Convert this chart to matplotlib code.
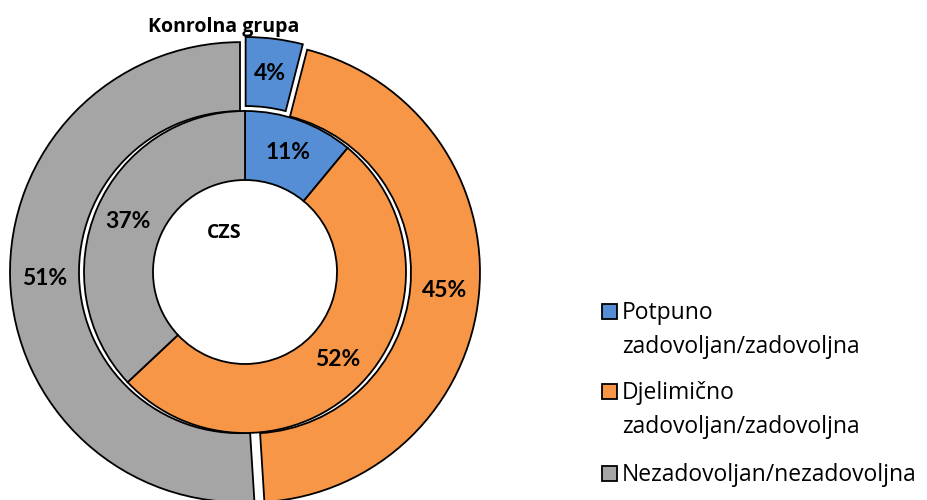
import matplotlib.pyplot as plt
from matplotlib.patches import Rectangle

# data
categories = ["Potpuno\nzadovoljan/zadovoljna",
              "Djelimično\nzadovoljan/zadovoljna",
              "Nezadovoljan/nezadovoljna"]
czs_values = [11, 52, 37]
kontrolna_values = [4, 45, 51]
colors = ["#558ED5", "#F79646", "#A5A5A5"]

plt.rcParams['font.family'] = ['Open Sans', 'DejaVu Sans']
pct_font = ['Lato', 'DejaVu Sans']

fig = plt.figure(figsize=(9.27, 5.0), dpi=100)
ax = fig.add_axes([0, 0, 1, 1])

# work in pixel-like units so the rings land where they should
cx, cy = 245, 500 - 272
ring_w = 69

outer, _, outer_txt = ax.pie(
    kontrolna_values, radius=230, center=(cx, cy), startangle=90, counterclock=False,
    explode=[5, 5, 5], colors=colors, autopct='%.0f%%', pctdistance=0.85,
    wedgeprops=dict(width=ring_w, edgecolor='black', linewidth=1.3),
    textprops=dict(fontsize=16.5, fontweight='bold', family=pct_font), frame=True)

inner, _, inner_txt = ax.pie(
    czs_values, radius=161, center=(cx, cy), startangle=90, counterclock=False,
    colors=colors, autopct='%.0f%%', pctdistance=0.79,
    wedgeprops=dict(width=ring_w, edgecolor='black', linewidth=1.3),
    textprops=dict(fontsize=16.5, fontweight='bold', family=pct_font), frame=True)

ax.text(224, 500 - 27, "Konrolna grupa", ha='center', va='center',
        fontsize=14, fontweight='bold', zorder=5)
ax.text(224, 500 - 233, "CZS", ha='center', va='center', fontsize=14, fontweight='bold')

# legend drawn by hand: swatch sits next to the first line of each label
legend_x = 602
swatch = 15
first_baselines = [319, 399, 481]
line_gap = 34
for wedge, label, base in zip(inner, categories, first_baselines):
    ax.add_patch(Rectangle((legend_x, 500 - base), swatch, swatch,
                           facecolor=wedge.get_facecolor(), edgecolor='black', linewidth=1.3))
    for i, line in enumerate(label.split("\n")):
        ax.text(legend_x + swatch + 5, 500 - base - i * line_gap, line,
                fontsize=16.5, va='baseline', ha='left')

ax.set_xlim(0, 927)
ax.set_ylim(0, 500)
ax.set_aspect('equal')
ax.axis('off')

fig.savefig("out.png", dpi=100)
